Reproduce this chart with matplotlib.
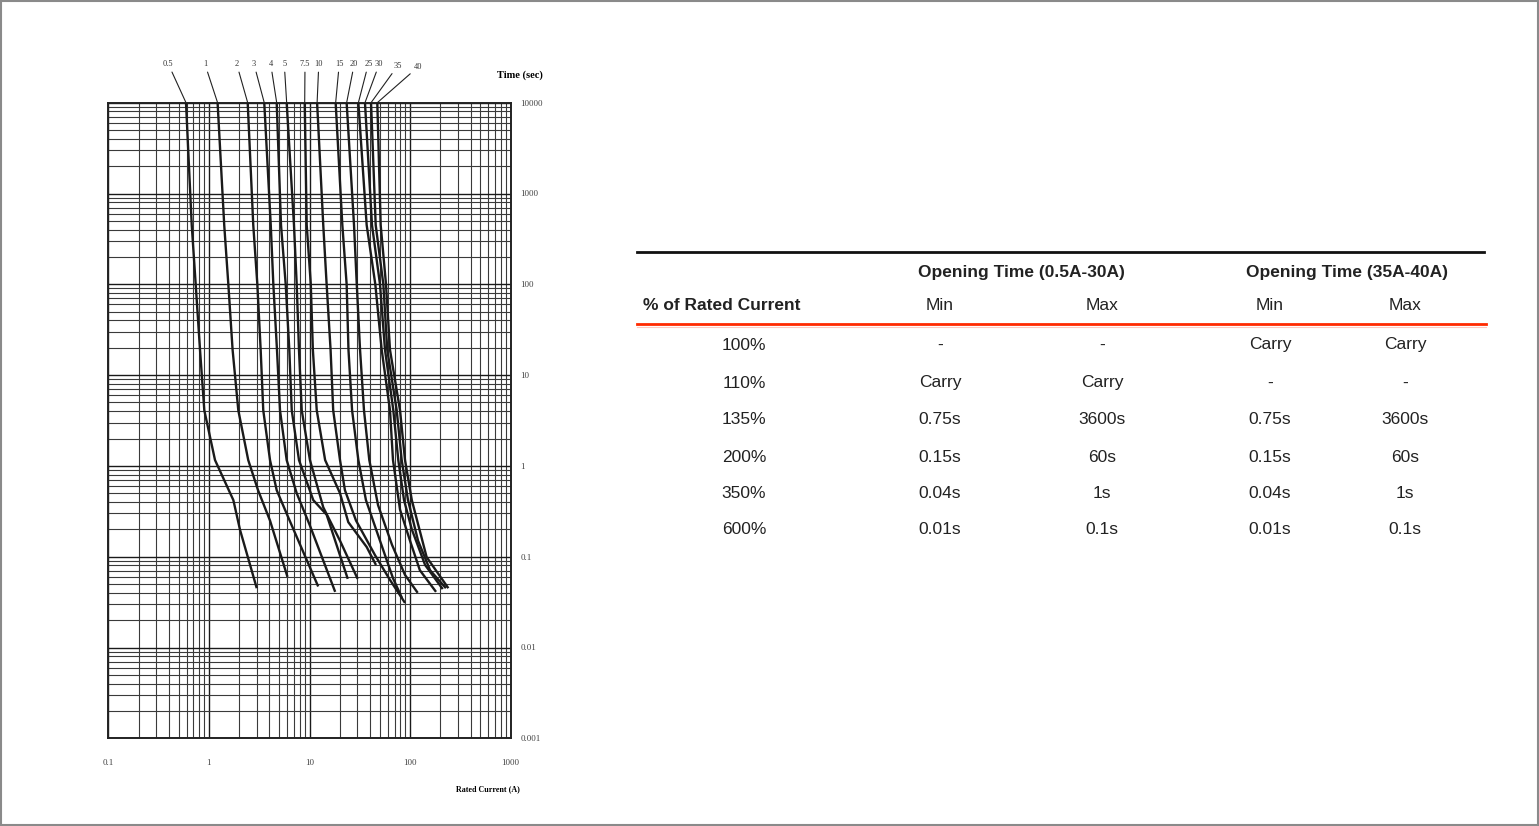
import matplotlib
matplotlib.use('agg')
import matplotlib.pyplot as plt
from matplotlib.ticker import FixedLocator, FixedFormatter, LogLocator, NullFormatter
from matplotlib.patches import Rectangle

plt.rcParams["font.family"] = ["Liberation Sans", "DejaVu Sans"]

# fuse ratings (A), one time-current curve per rating
ratings = ['0.5', '1', '2', '3', '4', '5', '7.5', '10', '15', '20', '25', '30', '35', '40']

# current (A) along each curve
curve_amps = [
    [0.592, 0.675, 0.739, 0.816, 0.900, 1.15, 1.75, 2.04, 2.99],          # 0.5
    [1.22, 1.42, 1.56, 1.72, 1.96, 2.46, 3.08, 4.05, 6.04],               # 1
    [2.43, 2.76, 3.03, 3.27, 3.47, 4.05, 4.72, 6.16, 12.2],               # 2
    [3.55, 4.12, 4.37, 4.75, 5.09, 5.93, 7.46, 10.1, 18.0],               # 3
    [4.72, 5.21, 5.80, 6.30, 6.66, 7.86, 10.9, 14.8, 24.0],               # 4
    [5.93, 7.01, 7.46, 7.86, 8.37, 10.1, 13.7, 20.1, 30.1],               # 5
    [8.96, 9.38, 10.3, 10.8, 11.8, 14.3, 20.1, 24.3, 37.0, 45.8],         # 7.5
    [11.9, 13.7, 14.8, 16.2, 17.2, 20.1, 22.5, 29.0, 44.8, 63.1, 89.0],   # 10
    [18.2, 21.2, 23.4, 24.4, 26.5, 30.6, 36.4, 50.2, 67.6, 83.1],         # 15
    [23.4, 27.7, 29.5, 31.8, 34.8, 39.3, 48.0, 66.1, 89.0, 119],          # 20
    [30.6, 37.0, 45.1, 52.2, 63.1, 67.6, 79.4, 99.8, 125, 181],           # 25
    [35.6, 41.8, 50.2, 56.3, 68.1, 76.3, 87.0, 104, 141, 211],            # 30
    [40.9, 45.5, 54.2, 59.3, 73.6, 82.5, 95.3, 120, 158, 227],            # 35
    [47.2, 51.0, 57.6, 63.1, 79.4, 89.0, 104, 146, 240],                  # 40
]

# opening time (s) matching each current point above
curve_secs = [
    [10000, 450, 100, 19, 4.1, 1.16, 0.42, 0.197, 0.045],
    [10000, 450, 100, 19, 4.1, 1.16, 0.54, 0.25, 0.060],
    [10000, 450, 100, 19, 4.1, 1.16, 0.54, 0.27, 0.047],
    [10000, 450, 100, 19, 4.1, 1.16, 0.50, 0.22, 0.041],
    [10000, 450, 100, 19, 4.1, 1.16, 0.42, 0.29, 0.057],
    [10000, 450, 100, 19, 4.1, 1.16, 0.35, 0.15, 0.057],
    [10000, 450, 100, 19, 4.1, 1.16, 0.50, 0.24, 0.128, 0.081],
    [10000, 450, 100, 19, 4.1, 1.16, 0.54, 0.25, 0.104, 0.0555, 0.031],
    [10000, 450, 100, 19, 4.1, 1.16, 0.42, 0.15, 0.058, 0.035],
    [10000, 450, 100, 19, 4.1, 1.16, 0.37, 0.135, 0.063, 0.040],
    [10000, 450, 100, 19, 4.1, 1.16, 0.33, 0.15, 0.071, 0.041],
    [10000, 450, 100, 19, 4.1, 1.16, 0.42, 0.20, 0.081, 0.044],
    [10000, 450, 100, 19, 4.1, 1.16, 0.42, 0.15, 0.071, 0.045],
    [10000, 450, 100, 19, 4.1, 1.16, 0.42, 0.099, 0.045],
]

x_ticks = [0.1, 1, 10, 100, 1000]
x_tick_labels = ['0.1', '1', '10', '100', '1000']
y_ticks = [0.001, 0.01, 0.1, 1, 10, 100, 1000, 10000]
y_tick_labels = ['0.001', '0.01', '0.1', '1', '10', '100', '1000', '10000']

# table on the right
group_headers = ['Opening Time (0.5A-30A)', 'Opening Time (35A-40A)']
col_headers = ['% of Rated Current', 'Min', 'Max', 'Min', 'Max']
rated_pct = ['100%', '110%', '135%', '200%', '350%', '600%']
min_low = ['-', 'Carry', '0.75s', '0.15s', '0.04s', '0.01s']
max_low = ['-', 'Carry', '3600s', '60s', '1s', '0.1s']
min_high = ['Carry', '-', '0.75s', '0.15s', '0.04s', '0.01s']
max_high = ['Carry', '-', '3600s', '60s', '1s', '0.1s']

# label offsets (pixels) from the top of each curve
label_dx = [-17.7, -12.7, -11, -10.3, -6, -2.4, 0.3, 1.7, 3.6, 7.6, 10, 14.3, 26.7, 41]
label_dy = [38.7] * 12 + [37, 36]

W, H = 1539, 826
fig = plt.figure(figsize=(W / 100, H / 100), dpi=100)

ax = fig.add_axes([108.3 / W, (H - 738.3) / H, 402.4 / W, 635.6 / H])
ax.set_xscale('log')
ax.set_yscale('log')
ax.set_xlim(0.1, 1000)
ax.set_ylim(0.001, 10000)

serif = ['Liberation Serif', 'DejaVu Serif']

ax.xaxis.set_major_locator(FixedLocator(x_ticks))
ax.xaxis.set_major_formatter(FixedFormatter(x_tick_labels))
ax.yaxis.set_major_locator(FixedLocator(y_ticks))
ax.yaxis.set_major_formatter(FixedFormatter(y_tick_labels))
for axis in (ax.xaxis, ax.yaxis):
    axis.set_minor_locator(LogLocator(base=10, subs=range(2, 10), numticks=100))
    axis.set_minor_formatter(NullFormatter())
ax.yaxis.tick_right()
ax.tick_params(which='both', length=0)
ax.tick_params(axis='x', pad=15, labelsize=6.5, labelcolor='#444')
ax.tick_params(axis='y', pad=7, labelsize=6.5, labelcolor='#444')
for lab in ax.get_xticklabels() + ax.get_yticklabels():
    lab.set_family(serif)

ax.grid(which='major', color='#1a1a1a', linewidth=1.0)
ax.grid(which='minor', color='#3a3a3a', linewidth=0.8)
for s in ax.spines.values():
    s.set_color('#222')
    s.set_linewidth(1.4)

for i, name in enumerate(ratings):
    ax.plot(curve_amps[i], curve_secs[i], color='#1a1a1a', linewidth=1.7,
            solid_capstyle='butt', zorder=3)
    ax.annotate(name, xy=(curve_amps[i][0], curve_secs[i][0]),
                xytext=(label_dx[i], label_dy[i]), textcoords='offset pixels',
                ha='center', va='center', fontsize=6, family=serif, color='#333',
                annotation_clip=False,
                arrowprops=dict(arrowstyle='-', color='#222', lw=0.8,
                                shrinkA=1, shrinkB=0))

# overlay in pixel coordinates for the free text and the table
ov = fig.add_axes([0, 0, 1, 1])
ov.set_xlim(0, W)
ov.set_ylim(H, 0)
ov.axis('off')

ov.text(520, 75, 'Time (sec)', ha='center', va='center', fontsize=7.5,
        fontweight='bold', family=serif)
ov.text(488, 789, 'Rated Current (A)', ha='center', va='center', fontsize=5.8,
        fontweight='bold', family=serif)

tc = '#222222'
ov.plot([637, 1484], [252, 252], color='#111', linewidth=2)
ov.plot([637, 1486], [324, 324], color='#ff2a00', linewidth=2)
ov.plot([637, 1486], [326.5, 326.5], color='#ffc8c0', linewidth=0.8)

ov.text(1021, 272, group_headers[0], ha='center', va='center', fontsize=12.5,
        fontweight='bold', color=tc)
ov.text(1347, 272, group_headers[1], ha='center', va='center', fontsize=12.5,
        fontweight='bold', color=tc)

col_x = [744, 940, 1102, 1270, 1405]
ov.text(643, 306, col_headers[0], ha='left', va='center', fontsize=12.5,
        fontweight='bold', color=tc)
for x, h in zip(col_x[1:], col_headers[1:]):
    ov.text(x, 306, h, ha='center', va='center', fontsize=12.5, color=tc)

row_y = [345, 383, 420, 457, 493, 530]
for j, y in enumerate(row_y):
    vals = [rated_pct[j], min_low[j], max_low[j], min_high[j], max_high[j]]
    for x, v in zip(col_x, vals):
        ov.text(x, y, v, ha='center', va='center', fontsize=12.5, color=tc)

fig.patches.append(Rectangle((0.5, 0.5), W - 1.5, H - 1.5, fill=False,
                             edgecolor='#8a8a8a', linewidth=1.5,
                             transform=ov.transData))

fig.savefig('out.png', dpi=100, facecolor='white')
plt.close(fig)
